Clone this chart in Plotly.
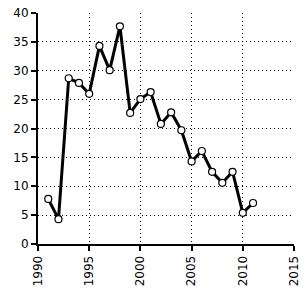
import plotly.graph_objects as go

years = list(range(1991, 2012))
values = [7.8, 4.3, 28.7, 27.9, 26.0, 34.3, 30.1, 37.7, 22.7, 25.1, 26.3,
          20.8, 22.8, 19.7, 14.3, 16.1, 12.5, 10.6, 12.5, 5.4, 7.1]
x_ticks = [1990, 1995, 2000, 2005, 2010, 2015]
y_ticks = [0, 5, 10, 15, 20, 25, 30, 35, 40]

fig = go.Figure()
fig.add_trace(go.Scatter(
    x=years, y=values, mode="lines+markers",
    line=dict(color="black", width=3),
    marker=dict(symbol="circle", size=7, color="white",
                line=dict(color="black", width=1.2)),
    showlegend=False, cliponaxis=False,
))

axis_font = dict(family="DejaVu Sans", size=12, color="black")
fig.update_layout(
    width=306, height=291,
    margin=dict(l=38, r=12, t=13, b=47, autoexpand=False),
    paper_bgcolor="white", plot_bgcolor="white",
    xaxis=dict(range=[1990, 2015], tickvals=x_ticks, ticktext=[str(v) for v in x_ticks],
               tickangle=-90, showgrid=True, gridcolor="black", griddash="1px,3px", gridwidth=1,
               showline=True, linecolor="black", linewidth=2, ticks="outside",
               ticklen=5, tickcolor="black", tickwidth=2, zeroline=False,
               tickfont=axis_font, automargin=False),
    yaxis=dict(range=[0, 40], tickvals=y_ticks, showgrid=True, gridcolor="black",
               griddash="1px,3px", gridwidth=1, showline=True, linecolor="black", linewidth=2,
               ticks="outside", ticklen=5, tickcolor="black", tickwidth=2,
               zeroline=False, tickfont=axis_font, automargin=False),
)
fig.write_html("out.html")
